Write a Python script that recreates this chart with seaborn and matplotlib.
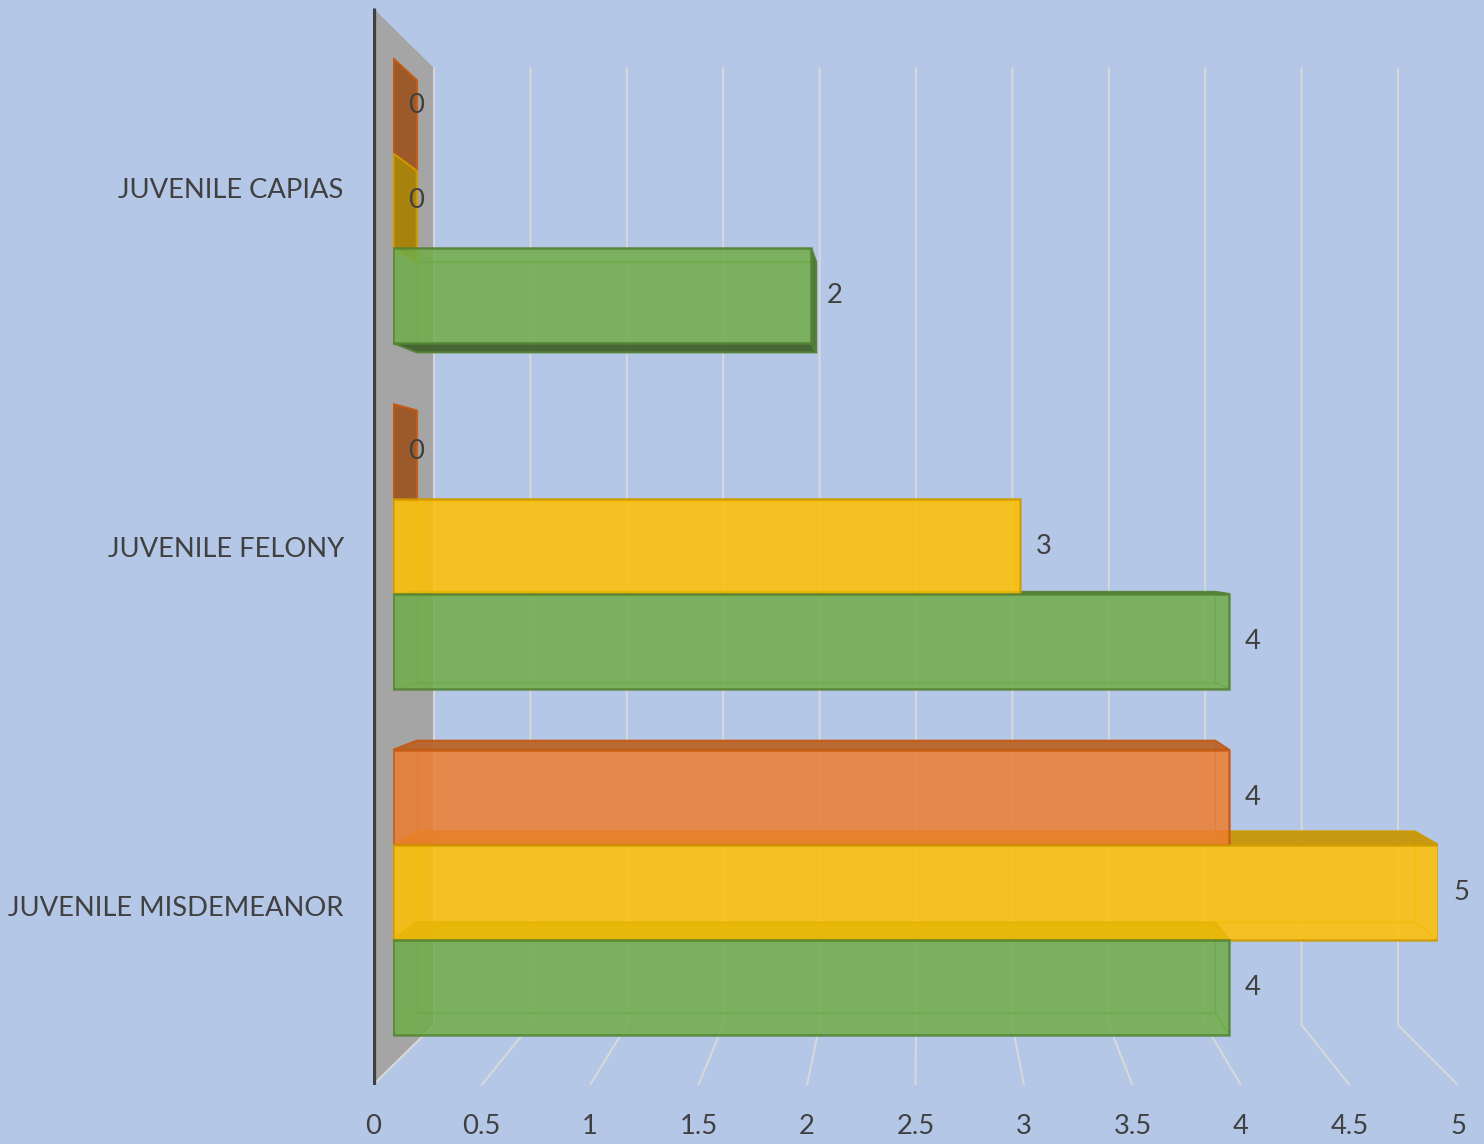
import numpy as np
import pandas as pd
import matplotlib
matplotlib.use("Agg")
import matplotlib.pyplot as plt
import seaborn as sns
from matplotlib.patches import Polygon
from matplotlib.colors import to_rgb

# ---------------- data ----------------
categories = ["JUVENILE CAPIAS", "JUVENILE FELONY", "JUVENILE MISDEMEANOR"]
series = ["Series1", "Series2", "Series3"]
orange_vals = [0, 0, 4]
yellow_vals = [0, 3, 5]
green_vals = [2, 4, 4]
x_ticks = [0, 0.5, 1, 1.5, 2, 2.5, 3, 3.5, 4, 4.5, 5]
x_tick_labels = ["0", "0.5", "1", "1.5", "2", "2.5", "3", "3.5", "4", "4.5", "5"]

colors = ["#ED7D31", "#FFC000", "#70AD47"]
edge_colors = ["#C55A11", "#D09A00", "#548235"]
BG = "#B4C7E7"
TXT = "#404040"

df = pd.DataFrame({
    "category": categories * 3,
    "series": [s for s in series for _ in categories],
    "value": orange_vals + yellow_vals + green_vals,
})

sns.set_theme(style="white")
plt.rcParams['font.family'] = ['Lato', 'DejaVu Sans']

W, H = 1484, 1144
fig = plt.figure(figsize=(W / 100, H / 100), dpi=100, facecolor=BG)

# perspective geometry (pixels)
box = (373, 8, 1458, 1085)   # front box: left, top, right, bottom
cxp, cyp = 920, 546.5        # vanishing centre
s_bar_front = 0.963
s_bar_back = 0.920
s_wall = 0.8885


def rect_fig(l, t, r, b):
    return [l / W, 1 - b / H, (r - l) / W, (b - t) / H]


def scaled_box(s):
    l, t, r, b = box
    return (cxp + s * (l - cxp), cyp + s * (t - cyp),
            cxp + s * (r - cxp), cyp + s * (b - cyp))


ax_front = fig.add_axes(rect_fig(*box))
ax = fig.add_axes(rect_fig(*scaled_box(s_bar_front)))
for a in (ax_front, ax):
    a.set_facecolor("none")
    a.set_xlim(0, 5)
    a.set_ylim(2.5, -0.5)

# centre in data coords (identical for both axes)
xc = (cxp - box[0]) / ((box[2] - box[0]) / 5)
yc = -0.5 + (cyp - box[1]) / ((box[3] - box[1]) / 3)


def P(x, y, s):
    return (xc + s * (x - xc), yc + s * (y - yc))


# ---------------- wall, floor & grid (front axes) ----------------
wall = Polygon([(0, -0.5), P(0, -0.5, s_wall), P(0, 2.5, s_wall), (0, 2.5)],
               closed=True, facecolor="#A5A5A5", edgecolor="none", zorder=1)
ax_front.add_patch(wall)
for v in x_ticks:
    p1 = P(v, -0.5, s_wall)
    p2 = P(v, 2.5, s_wall)
    ax_front.plot([p1[0], p2[0], v], [p1[1], p2[1], 2.5], color="#D9D9D9",
                  lw=1.4, zorder=2, solid_joinstyle="miter")
ax_front.plot([0, 0], [-0.5, 2.5], color="#404040", lw=3.8, zorder=3,
              solid_capstyle="butt")

ax_front.set_xticks(x_ticks, x_tick_labels)
ax_front.set_yticks([0, 1, 2], categories)
ax_front.tick_params(axis="x", length=0, pad=21, labelsize=19.7, labelcolor=TXT)
ax_front.tick_params(axis="y", length=0, pad=21, labelsize=19.7, labelcolor=TXT)
for sp in ax_front.spines.values():
    sp.set_visible(False)

# ---------------- bars ----------------
sns.barplot(data=df, y="category", x="value", hue="series", hue_order=series,
            order=categories, palette=colors, orient="h", width=0.824,
            saturation=1, alpha=0.85, legend=False, ax=ax)
ax.set_xlim(0, 5)
ax.set_ylim(2.5, -0.5)
ax.axis("off")

sb = s_bar_back / s_bar_front


def shade(c, f):
    r, g, b = to_rgb(c)
    return (r * f, g * f, b * f)


for i, cont in enumerate(ax.containers):
    base = colors[i]
    ec = edge_colors[i]
    for patch in cont.patches:
        x0 = patch.get_x()
        x1 = x0 + patch.get_width()
        y0 = patch.get_y()
        y1 = y0 + patch.get_height()
        patch.set_edgecolor(ec)
        patch.set_linewidth(1.8)
        patch.set_zorder(5)
        Q = lambda x, y: P(x, y, sb)
        # back face (only faint edges visible through the front)
        ax.add_patch(Polygon([Q(x0, y0), Q(x1, y0), Q(x1, y1), Q(x0, y1)],
                             closed=True, facecolor="none", edgecolor=ec,
                             lw=1.0, alpha=0.5, zorder=2))
        faces = [
            ([(x0, y0), (x1, y0), Q(x1, y0), Q(x0, y0)], y0 > yc, 0.78),
            ([(x0, y1), (x1, y1), Q(x1, y1), Q(x0, y1)], y1 < yc, 0.55),
            ([(x1, y0), (x1, y1), Q(x1, y1), Q(x1, y0)], x1 < xc, 0.66),
        ]
        for pts, visible, f in faces:
            if visible:
                ax.add_patch(Polygon(pts, closed=True, facecolor=shade(base, f),
                                     edgecolor=ec, lw=1.5, alpha=0.92, zorder=3))
            else:
                ax.add_patch(Polygon(pts, closed=True, facecolor="none",
                                     edgecolor=ec, lw=0.9, alpha=0.45, zorder=2))
    ax.bar_label(cont, fmt="%g", padding=11, fontsize=19.7, color=TXT, zorder=6)

fig.savefig("out.png", dpi=100, facecolor=BG)
